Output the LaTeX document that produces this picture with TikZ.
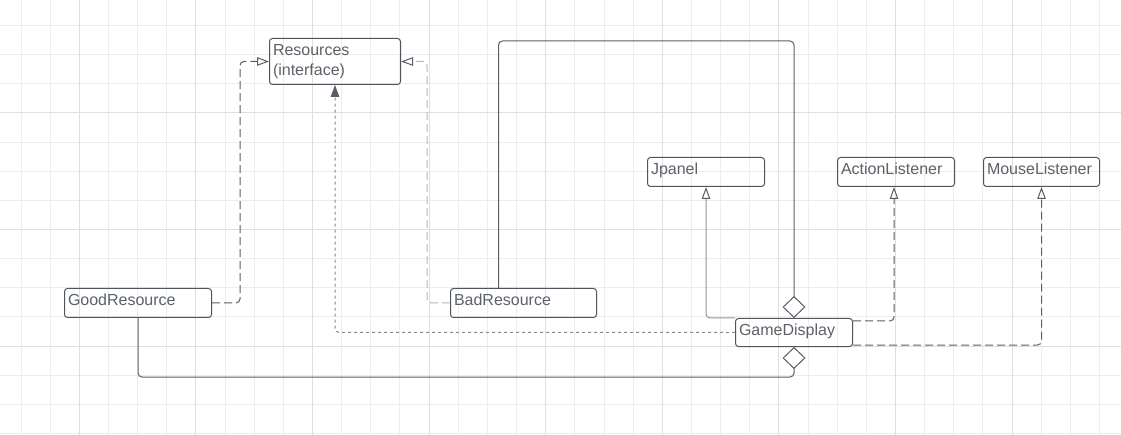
\documentclass[tikz,border=0pt]{standalone}
\usepackage{fontspec}
\setmainfont{Liberation Sans}
\usetikzlibrary{arrows.meta,calc}
\definecolor{gridmin}{HTML}{EDEDED}
\definecolor{gridmaj}{HTML}{DFDFDF}
\definecolor{boxc}{HTML}{50545B}
\definecolor{txtc}{HTML}{5D6168}
\definecolor{linec}{HTML}{5A5E64}
\definecolor{lightc}{HTML}{B8B8B8}
\definecolor{dotc}{HTML}{8A8A8A}
\tikzset{
  cls/.style={draw=boxc,line width=1pt,rounded corners=3pt,anchor=north west,text=txtc,
    align=left,font=\fontsize{16}{19.5}\selectfont,inner xsep=3.5pt,inner ysep=4pt,
    text height=13.5pt,text depth=7.5pt},
  link/.style={draw=linec,line width=1pt,rounded corners=4pt},
  real/.style={link,dash pattern=on 8pt off 4pt,-{Triangle[open,length=12pt,width=8.5pt,color=linec]}},
  gen/.style={link,draw=gray!85,-{Triangle[open,length=12pt,width=8.5pt,color=linec]}},
  dep/.style={link,draw=dotc,dash pattern=on 3pt off 3pt,-{Triangle[length=12pt,width=8.5pt,color=linec]}},
  agg/.style={link,-{Diamond[open,fill=white,length=22pt,width=23pt,color=linec]}}
}
\begin{document}
\begin{tikzpicture}[x=1pt,y=-1pt]
  \def\gs{29.15}
  \useasboundingbox[fill=white] (0,0) rectangle (1121,435);
  % grid
  \foreach \k in {0,...,38} \draw[gridmin,line width=1pt] ({21+\gs*\k},0) -- ({21+\gs*\k},435);
  \foreach \k in {0,...,14} \draw[gridmin,line width=1pt] (0,{25.5+\gs*\k}) -- (1121,{25.5+\gs*\k});
  \foreach \k in {0,...,8} \draw[gridmaj,line width=1pt] ({79.3+4*\gs*\k},0) -- ({79.3+4*\gs*\k},435);
  \foreach \k in {0,...,2} \draw[gridmaj,line width=1pt] (0,{113+4*\gs*\k}) -- (1121,{113+4*\gs*\k});
  % classes
  \node[cls,text width=124pt,text depth=24.5pt] (res) at (269,38) {Resources\\(interface)};
  \node[cls,text width=140pt] (good) at (64,288) {GoodResource};
  \node[cls,text width=139pt] (bad) at (450,288) {BadResource};
  \node[cls,text width=110pt,text depth=6.5pt] (gd) at (735,318) {GameDisplay};
  \node[cls,text width=110pt] (jp) at (647,157) {Jpanel};
  \node[cls,text width=110pt] (al) at (837,157) {ActionListener};
  \node[cls,text width=109pt] (ml) at (983,157) {MouseListener};
  \coordinate (top) at (gd.north |- 0,41);
  % relations
  \draw[real] (good.east) -| ([xshift=-29pt]res.west) -- (res.west);
  \draw[real,draw=lightc] (bad.west) -| ([xshift=26pt]res.east) -- (res.east);
  \draw[dep] (gd.west) -| (res.south);
  \draw[gen] (gd.north west) -| (jp.south);
  \draw[real] ([yshift=-3pt]gd.north east) -| ([xshift=-2pt]al.south);
  \draw[real] ([yshift=2pt]gd.south east) -| (ml.south);
  \draw[agg] ([xshift=-25pt]bad.north) |- (top) -- (gd.north);
  \draw[agg] (good.south) |- ([yshift=-30pt]gd.south) -- (gd.south);
\end{tikzpicture}
\end{document}
